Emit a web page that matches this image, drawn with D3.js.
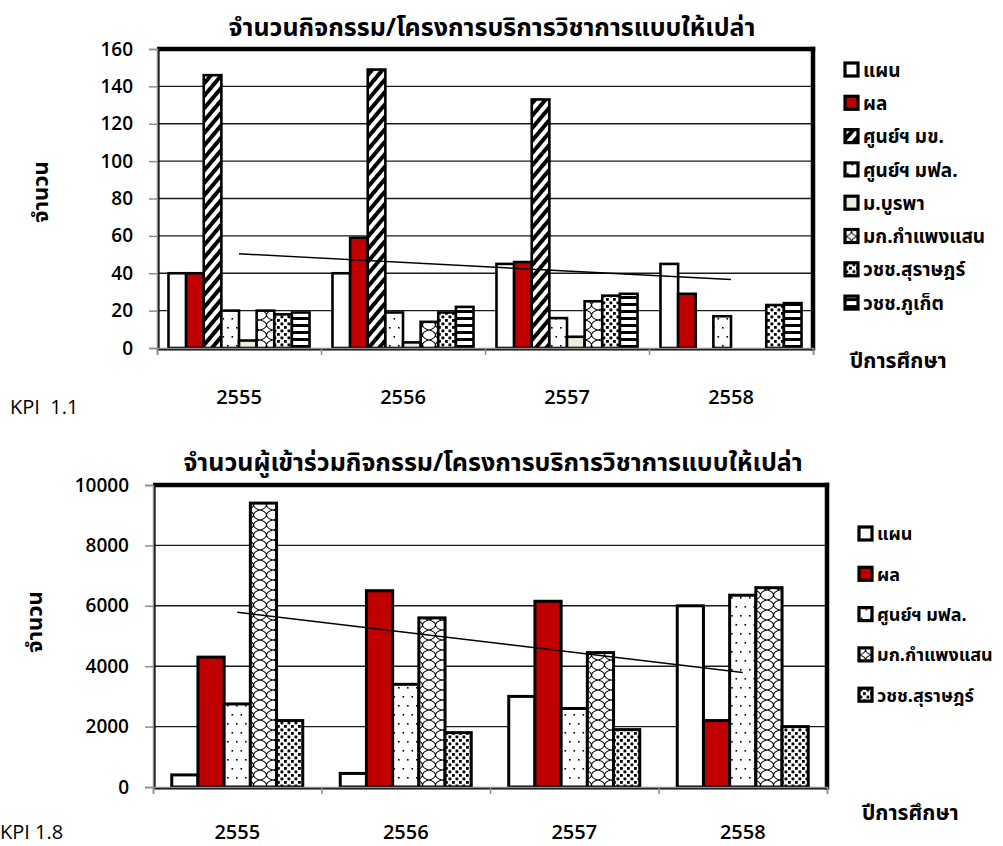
<!DOCTYPE html>
<html>
<head>
<meta charset="utf-8">
<script src="https://cdn.jsdelivr.net/npm/d3@7"></script>
<style>
  body { margin: 0; background: #fff; }
  svg text { font-family: Tahoma, "Noto Sans Thai", "Leelawadee UI", "Noto Sans", sans-serif; fill: #000; }
  .num { font-family: "Open Sans", "Noto Sans", sans-serif !important; }
</style>
</head>
<body>
<svg id="chart" width="1003" height="846"></svg>
<script>
// ---- data ----------------------------------------------------------------
const years = ["2555", "2556", "2557", "2558"];

// KPI 1.1 : number of free academic-service activities / projects
const activitySeries = ["แผน", "ผล", "ศูนย์ฯ มข.", "ศูนย์ฯ มฟล.", "ม.บูรพา", "มก.กำแพงแสน", "วชช.สุราษฎร์", "วชช.ภูเก็ต"];
const actPlan    = [40, 40, 45, 45];
const actResult  = [40, 59, 46, 29];
const actKKU     = [146, 149, 133, 0];
const actMFU     = [20, 19, 16, 17];
const actBurapha = [4, 3, 6, 0];
const actKPS     = [20, 14, 25, 0];
const actSurat   = [18, 19, 28, 23];
const actPhuket  = [19, 22, 29, 24];
const activityTicks = [0, 20, 40, 60, 80, 100, 120, 140, 160];

// KPI 1.8 : number of participants
const participantSeries = ["แผน", "ผล", "ศูนย์ฯ มฟล.", "มก.กำแพงแสน", "วชช.สุราษฎร์"];
const partPlan   = [400, 450, 3000, 6000];
const partResult = [4300, 6500, 6150, 2200];
const partMFU    = [2750, 3400, 2600, 6350];
const partKPS    = [9400, 5600, 4450, 6600];
const partSurat  = [2200, 1800, 1900, 2000];
const participantTicks = [0, 2000, 4000, 6000, 8000, 10000];

// fill pattern used by each series
const seriesFill = {
  "แผน": "#ffffff",
  "ผล": "#c00000",
  "ศูนย์ฯ มข.": "url(#p-diag)",
  "ศูนย์ฯ มฟล.": "url(#p-sparse)",
  "ม.บูรพา": "#eeece1",
  "มก.กำแพงแสน": "url(#p-weave)",
  "วชช.สุราษฎร์": "url(#p-confetti)",
  "วชช.ภูเก็ต": "url(#p-hlines)"
};

const svg = d3.select("#chart");

// ---- patterns ------------------------------------------------------------
const defs = svg.append("defs");
{
  const p = defs.append("pattern").attr("id", "p-diag").attr("patternUnits", "userSpaceOnUse")
    .attr("width", 8).attr("height", 8).attr("patternTransform", "rotate(40)");
  p.append("rect").attr("width", 8).attr("height", 8).attr("fill", "#fff");
  p.append("rect").attr("width", 4).attr("height", 8).attr("fill", "#000");
}
{
  const p = defs.append("pattern").attr("id", "p-sparse").attr("patternUnits", "userSpaceOnUse")
    .attr("width", 9).attr("height", 18);
  p.append("rect").attr("width", 9).attr("height", 18).attr("fill", "#fff");
  p.append("rect").attr("x", 2).attr("y", 3).attr("width", 1.6).attr("height", 1.6).attr("fill", "#000");
  p.append("rect").attr("x", 6.5).attr("y", 12).attr("width", 1.6).attr("height", 1.6).attr("fill", "#000");
}
{
  const p = defs.append("pattern").attr("id", "p-weave").attr("patternUnits", "userSpaceOnUse")
    .attr("width", 13).attr("height", 10);
  p.append("rect").attr("width", 13).attr("height", 10).attr("fill", "#fff");
  p.append("path")
    .attr("d", "M0,0 Q6,1.5 6.5,5 Q7,8.5 13,10 M13,0 Q7,1.5 6.5,5 Q6,8.5 0,10")
    .attr("fill", "none").attr("stroke", "#000").attr("stroke-width", 1.1);
}
{
  const p = defs.append("pattern").attr("id", "p-confetti").attr("patternUnits", "userSpaceOnUse")
    .attr("width", 7).attr("height", 7);
  p.append("rect").attr("width", 7).attr("height", 7).attr("fill", "#fff");
  p.append("rect").attr("x", 0.5).attr("y", 0.5).attr("width", 2.8).attr("height", 2.8).attr("fill", "#000");
  p.append("rect").attr("x", 4).attr("y", 4).attr("width", 2.8).attr("height", 2.8).attr("fill", "#000");
}
{
  const p = defs.append("pattern").attr("id", "p-hlines").attr("patternUnits", "userSpaceOnUse")
    .attr("width", 8).attr("height", 7);
  p.append("rect").attr("width", 8).attr("height", 7).attr("fill", "#fff");
  p.append("rect").attr("y", 2).attr("width", 8).attr("height", 3).attr("fill", "#000");
}

// ---- one clustered bar chart ---------------------------------------------
function drawChart(cfg) {
  const g = svg.append("g");
  const { left, right, top, bottom } = cfg.box;

  const x = d3.scaleBand().domain(years).range([left, right])
    .paddingInner(cfg.gap).paddingOuter(cfg.gap / 2);
  const xs = d3.scaleBand().domain(cfg.series).range([0, x.bandwidth()]);
  const y = d3.scaleLinear().domain([0, d3.max(cfg.ticks)]).range([bottom, top]);
  const edge = d3.scaleLinear().domain([0, years.length]).range([left, right]);

  // horizontal gridlines
  g.append("g").selectAll("line").data(cfg.ticks.slice(1))
    .join("line")
    .attr("x1", left).attr("x2", right)
    .attr("y1", d => y(d)).attr("y2", d => y(d))
    .attr("stroke", "#1a1a1a").attr("stroke-width", 1.4);

  // bars
  const rows = [];
  cfg.series.forEach((s, si) => {
    cfg.values[si].forEach((v, yi) => rows.push({ s, year: years[yi], v }));
  });
  g.append("g").selectAll("rect").data(rows.filter(d => d.v > 0))
    .join("rect")
    .attr("x", d => x(d.year) + xs(d.s))
    .attr("width", xs.bandwidth())
    .attr("y", d => y(d.v))
    .attr("height", d => y(0) - y(d.v))
    .attr("fill", d => seriesFill[d.s])
    .attr("stroke", "#000").attr("stroke-width", cfg.barStroke);

  // linear trend of the "ผล" series
  const res = cfg.values[1];
  const n = res.length;
  const mx = d3.mean(res, (d, i) => i + 1);
  const my = d3.mean(res);
  const slope = d3.sum(res, (d, i) => (i + 1 - mx) * (d - my)) / d3.sum(res, (d, i) => (i + 1 - mx) ** 2);
  const fit = i => my + slope * (i + 1 - mx);
  g.append("line")
    .attr("x1", x(years[0]) + x.bandwidth() / 2).attr("y1", y(fit(0)))
    .attr("x2", x(years[n - 1]) + x.bandwidth() / 2).attr("y2", y(fit(n - 1)))
    .attr("stroke", "#000").attr("stroke-width", 1.5);

  // plot frame (heavier on top and right)
  g.append("line").attr("x1", left + 1.5).attr("x2", left + 1.5).attr("y1", top).attr("y2", bottom + 1.5)
    .attr("stroke", "#000").attr("stroke-width", 2.2);
  g.append("line").attr("x1", left).attr("x2", right).attr("y1", bottom + 1.5).attr("y2", bottom + 1.5)
    .attr("stroke", "#000").attr("stroke-width", 2.2);
  g.append("line").attr("x1", left).attr("x2", right + 2.2).attr("y1", top).attr("y2", top)
    .attr("stroke", "#000").attr("stroke-width", 4.5);
  g.append("line").attr("x1", right).attr("x2", right).attr("y1", top - 2.2).attr("y2", bottom + 2.5)
    .attr("stroke", "#000").attr("stroke-width", 4.5);

  // value axis
  const ya = g.append("g").attr("transform", `translate(${left},0)`)
    .call(d3.axisLeft(y).tickValues(cfg.ticks).tickSize(8).tickPadding(16).tickFormat(d3.format("d")));
  ya.select(".domain").attr("stroke", "#8c8c8c").attr("stroke-width", 1.5);
  ya.selectAll(".tick line").attr("stroke", "#8c8c8c").attr("stroke-width", 1.5);
  ya.selectAll(".tick text").attr("class", "num").attr("font-size", 19).attr("font-weight", 600);

  // category boundaries
  const ea = g.append("g").attr("transform", `translate(0,${bottom})`)
    .call(d3.axisBottom(edge).tickValues(d3.range(years.length + 1)).tickSize(7).tickFormat(""));
  ea.select(".domain").attr("stroke", "#8c8c8c").attr("stroke-width", 1.5);
  ea.selectAll(".tick line").attr("stroke", "#8c8c8c").attr("stroke-width", 1.5);

  // category labels
  const xa = g.append("g").attr("transform", `translate(0,${bottom})`)
    .call(d3.axisBottom(x).tickSize(0).tickPadding(cfg.labelDrop));
  xa.select(".domain").remove();
  xa.selectAll(".tick text").attr("class", "num").attr("font-size", 20).attr("font-weight", 600);

  // titles
  g.append("text").attr("x", cfg.title.x).attr("y", cfg.title.y).attr("text-anchor", "middle")
    .attr("font-size", 25).attr("font-weight", "bold").text(cfg.title.text);
  g.append("text").attr("transform", `translate(${cfg.yTitle.x},${cfg.yTitle.y}) rotate(-90)`)
    .attr("text-anchor", "middle").attr("font-size", 22).attr("font-weight", "bold").text("จำนวน");
  g.append("text").attr("x", cfg.xTitle.x).attr("y", cfg.xTitle.y)
    .attr("font-size", 21).attr("font-weight", "bold").text("ปีการศึกษา");
  g.append("text").attr("class", "num").attr("x", cfg.kpi.x).attr("y", cfg.kpi.y)
    .attr("font-size", 20).attr("xml:space", "preserve").style("white-space", "pre").text(cfg.kpi.text);

  // legend
  const lg = g.append("g").selectAll("g").data(cfg.series).join("g")
    .attr("transform", (d, i) => `translate(${cfg.legend.x},${cfg.legend.y + i * cfg.legend.step})`);
  lg.append("rect").attr("x", 0).attr("y", -7).attr("width", 13).attr("height", 13)
    .attr("fill", d => seriesFill[d]).attr("stroke", "#000").attr("stroke-width", 3.2);
  lg.append("text").attr("x", 18).attr("y", 0).attr("dy", "0.35em")
    .attr("font-size", cfg.legend.size).attr("font-weight", "bold").text(d => d);
}

drawChart({
  box: { left: 157, right: 813, top: 49, bottom: 348 },
  gap: 0.14,
  series: activitySeries,
  values: [actPlan, actResult, actKKU, actMFU, actBurapha, actKPS, actSurat, actPhuket],
  ticks: activityTicks,
  barStroke: 2.6,
  labelDrop: 42,
  title: { x: 492, y: 36, text: "จำนวนกิจกรรม/โครงการบริการวิชาการแบบให้เปล่า" },
  yTitle: { x: 48, y: 192 },
  xTitle: { x: 850, y: 368 },
  kpi: { x: 10, y: 414, text: "KPI  1.1" },
  legend: { x: 845, y: 70, step: 33.3, size: 19 }
});

drawChart({
  box: { left: 153, right: 827, top: 485, bottom: 787 },
  gap: 0.2225,
  series: participantSeries,
  values: [partPlan, partResult, partMFU, partKPS, partSurat],
  ticks: participantTicks,
  barStroke: 3,
  labelDrop: 38,
  title: { x: 493, y: 471, text: "จำนวนผู้เข้าร่วมกิจกรรม/โครงการบริการวิชาการแบบให้เปล่า" },
  yTitle: { x: 42, y: 622 },
  xTitle: { x: 862, y: 820 },
  kpi: { x: 0, y: 839, text: "KPI 1.8" },
  legend: { x: 859, y: 534, step: 40.3, size: 18 }
});
</script>
</body>
</html>
